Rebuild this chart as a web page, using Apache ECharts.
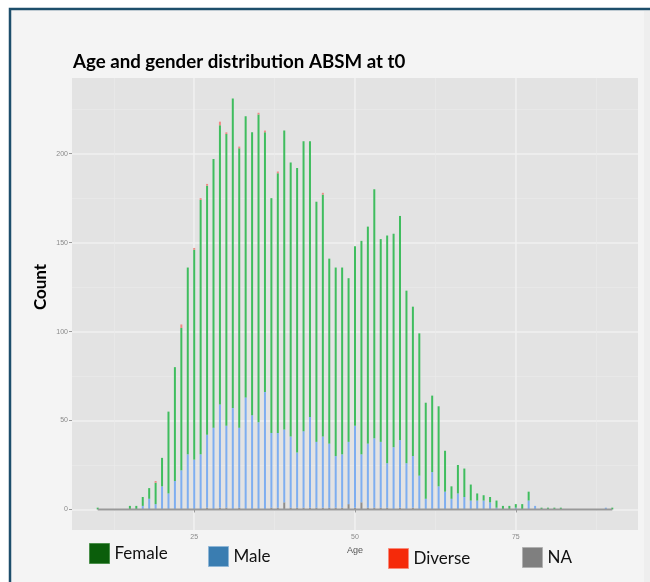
<!DOCTYPE html>
<html>
<head>
<meta charset="utf-8">
<script src="https://cdn.jsdelivr.net/npm/echarts@6/dist/echarts.min.js"></script>
<style>
  html, body { margin: 0; padding: 0; background: #ffffff; }
  #main { width: 650px; height: 582px; }
</style>
</head>
<body>
<div id="main"></div>
<script>
// ages 10..90, one bar per year
const ages = [];
for (let a = 10; a <= 90; a++) ages.push(a);

// counts (index = age - 10)
const female = [
  1, 0, 0, 0, 0, 2, 2, 5, 6, 12,
  16, 46, 64, 80, 105, 118, 143, 140, 151, 157,
  164, 174, 157, 158, 159, 173, 146, 132, 146, 168,
  154, 160, 163, 155, 135, 136, 104, 106, 105, 92,
  101, 120, 122, 140, 114, 128, 120, 126, 97, 84,
  80, 54, 43, 45, 23, 7, 16, 16, 9, 4,
  3, 3, 4, 2, 2, 2, 3, 5, 0, 1,
  1, 1, 1, 0, 0, 0, 0, 0, 0, 0, 1
];
const male = [
  0, 0, 0, 0, 0, 0, 0, 2, 6, 3,
  13, 9, 16, 22, 31, 28, 31, 41, 46, 58,
  46, 57, 45, 63, 53, 49, 66, 42, 42, 41,
  40, 31, 43, 51, 37, 40, 36, 29, 30, 35,
  46, 27, 36, 39, 37, 25, 35, 38, 26, 29,
  19, 6, 21, 13, 10, 6, 9, 7, 5, 5,
  5, 4, 1, 0, 0, 1, 0, 5, 2, 0,
  0, 0, 0, 0, 0, 0, 0, 0, 0, 1, 0
];
const diverse = [
  0, 0, 0, 0, 0, 0, 0, 0, 0, 1,
  0, 0, 0, 2, 0, 1, 1, 1, 0, 2,
  1, 0, 1, 0, 0, 1, 1, 0, 1, 0,
  0, 0, 0, 0, 0, 1, 0, 0, 0, 0,
  0, 0, 0, 0, 0, 0, 0, 0, 0, 0,
  0, 0, 0, 0, 0, 0, 0, 0, 0, 0,
  0, 0, 0, 0, 0, 0, 0, 0, 0, 0,
  0, 0, 0, 0, 0, 0, 0, 0, 0, 0, 0
];
const naCount = [
  0, 0, 0, 0, 0, 0, 0, 0, 0, 0,
  0, 0, 0, 0, 0, 0, 0, 1, 0, 1,
  1, 0, 1, 0, 0, 0, 0, 1, 1, 4,
  1, 1, 1, 1, 1, 1, 1, 1, 1, 3,
  1, 4, 1, 1, 1, 1, 0, 1, 0, 1,
  0, 0, 0, 0, 0, 0, 0, 0, 0, 0,
  0, 0, 0, 0, 0, 0, 0, 0, 0, 0,
  0, 0, 0, 0, 0, 0, 0, 0, 0, 0, 0
];
const baseline = [[10, 0], [90, 0]];

const xMajor = [25, 50, 75];
const xMinor = [12.5, 37.5, 62.5, 87.5];
const yMajor = [0, 50, 100, 150, 200];
const yMinor = [25, 75, 125, 175, 225];

// count first so that the stack is computed on the count dimension
const pair = (arr) => ages.map((a, i) => [arr[i], a]);

const chart = echarts.init(document.getElementById('main'));

const legendCommon = {
  orient: 'horizontal',
  padding: 0,
  itemWidth: 20,
  itemHeight: 20,
  icon: 'rect',
  selectedMode: false,
  textStyle: { fontSize: 17, fontFamily: 'Lato', color: '#111111' },
};

const barCommon = {
  type: 'bar',
  stack: 'age',
  barWidth: 2,
  encode: { x: 1, y: 0 },
  xAxisIndex: 0,
  yAxisIndex: 0,
  animation: false,
};

chart.setOption({
  backgroundColor: '#ffffff',
  animation: false,
  graphic: [
    {
      type: 'rect',
      z: -10,
      shape: { x: 10, y: 9, width: 700, height: 700 },
      style: { fill: '#f4f4f4', stroke: '#1d4e6b', lineWidth: 2.5 },
    },
    {
      type: 'rect',
      z: -9,
      shape: { x: 644, y: 11, width: 6, height: 580 },
      style: { fill: '#eeeeee' },
    },
  ],
  title: {
    text: 'Age and gender distribution ABSM at t0',
    left: 73,
    top: 52,
    padding: 0,
    textStyle: { fontFamily: 'Lato', fontWeight: 'bold', fontSize: 18.7, color: '#000000' },
  },
  legend: [
    { ...legendCommon, left: 89, top: 543, data: [{ name: 'Female', itemStyle: { color: '#0b5e0b', borderColor: '#4b8f4b', borderWidth: 1 } }] },
    { ...legendCommon, left: 208, top: 546, data: [{ name: 'Male', itemStyle: { color: '#3a7db1', borderColor: '#8fb6d6', borderWidth: 1 } }] },
    { ...legendCommon, left: 388, top: 548, data: [{ name: 'Diverse', itemStyle: { color: '#f52a0a', borderColor: '#f88a7a', borderWidth: 1 } }] },
    { ...legendCommon, left: 522, top: 547, data: [{ name: 'NA', itemStyle: { color: '#7f7f7f', borderColor: '#b0b0b0', borderWidth: 1 } }] },
  ],
  grid: {
    left: 72,
    right: 12,
    top: 78,
    bottom: 52,
    show: true,
    backgroundColor: '#e3e3e3',
    borderWidth: 0,
  },
  xAxis: [
    {
      type: 'value',
      min: 6,
      max: 94,
      name: 'Age',
      nameLocation: 'middle',
      nameGap: 15,
      nameTextStyle: { fontSize: 9, color: '#555555', fontFamily: 'Liberation Sans' },
      axisLine: { show: false },
      axisTick: { show: true, customValues: xMajor, length: 3, lineStyle: { color: '#9a9a9a' } },
      axisLabel: { customValues: xMajor, fontSize: 7, color: '#8a8a8a', margin: 4, fontFamily: 'Liberation Sans' },
      splitLine: { show: true, lineStyle: { color: '#f0f0f0', width: 1.6 } },
    },
    {
      type: 'value',
      min: 6,
      max: 94,
      position: 'bottom',
      axisLine: { show: false },
      axisTick: { show: false, customValues: xMinor },
      axisLabel: { show: false },
      splitLine: { show: true, lineStyle: { color: '#eaeaea', width: 0.8 } },
    },
  ],
  yAxis: [
    {
      type: 'value',
      min: -11.55,
      max: 242.55,
      name: 'Count',
      nameLocation: 'middle',
      nameRotate: 90,
      nameGap: 23,
      nameMoveOverlap: false,
      nameTextStyle: {
        fontSize: 17,
        fontWeight: 'bold',
        color: '#000000',
        fontFamily: 'Lato',
        padding: [0, 0, 0, 34],
      },
      axisLine: { show: false },
      axisTick: { show: true, customValues: yMajor, length: 3, lineStyle: { color: '#9a9a9a' } },
      axisLabel: { customValues: yMajor, fontSize: 7, color: '#8a8a8a', margin: 4, fontFamily: 'Liberation Sans' },
      splitLine: { show: true, lineStyle: { color: '#f0f0f0', width: 1.6 } },
    },
    {
      type: 'value',
      min: -11.55,
      max: 242.55,
      position: 'left',
      axisLine: { show: false },
      axisTick: { show: false, customValues: yMinor },
      axisLabel: { show: false },
      splitLine: { show: true, lineStyle: { color: '#eaeaea', width: 0.8 } },
    },
  ],
  series: [
    // stacked from the bottom: NA, Male, Female, Diverse
    { ...barCommon, name: 'NA', data: pair(naCount), itemStyle: { color: '#8c8c8c' } },
    { ...barCommon, name: 'Male', data: pair(male), itemStyle: { color: '#7eaef0' } },
    { ...barCommon, name: 'Female', data: pair(female), itemStyle: { color: '#3fbd5e' } },
    { ...barCommon, name: 'Diverse', data: pair(diverse), itemStyle: { color: '#ee8a84' } },
    {
      type: 'line',
      name: 'baseline',
      data: baseline,
      symbol: 'none',
      lineStyle: { color: '#999999', width: 2 },
      z: 3,
      animation: false,
    },
  ],
});
</script>
</body>
</html>
